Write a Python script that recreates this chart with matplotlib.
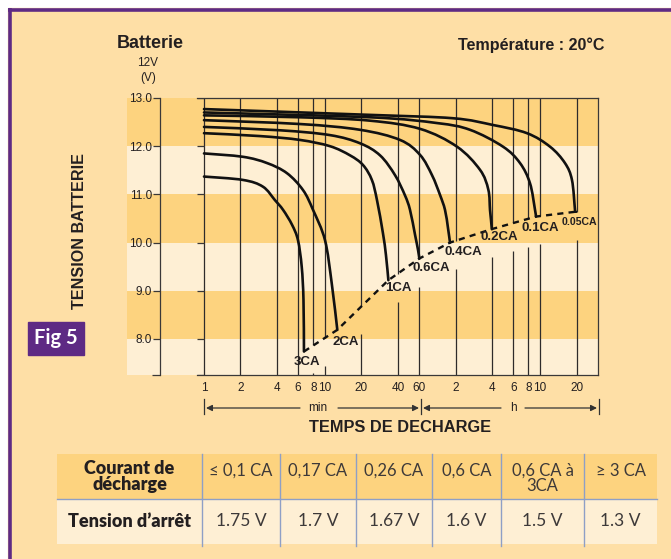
import numpy as np
import matplotlib
matplotlib.use("Agg")
import matplotlib.pyplot as plt
from matplotlib.path import Path
from matplotlib.patches import PathPatch, Rectangle

plt.rcParams['font.family'] = ['Liberation Sans', 'DejaVu Sans']

# discharge curves: time in minutes, voltage in V
t_3ca = [1, 2.1, 3.07, 3.86, 4.5, 5.34, 5.98, 6.42, 6.64, 6.7]
v_3ca = [11.37, 11.30, 11.16, 10.88, 10.68, 10.37, 10.05, 9.50, 8.81, 7.74]
t_2ca = [1, 2.1, 3.32, 4.85, 6.58, 7.96, 10.0, 11.36, 12.64]
v_2ca = [11.85, 11.78, 11.65, 11.44, 11.09, 10.68, 10.05, 9.16, 8.19]
t_1ca = [1, 2.9, 6.21, 11.0, 16.1, 20.6, 24.4, 26.9, 30.1, 31.9, 33.4]
v_1ca = [12.27, 12.21, 12.13, 12.00, 11.81, 11.61, 11.30, 10.88, 10.20, 9.74, 9.22]
t_06ca = [1, 4.25, 11.0, 19.5, 28.5, 37.9, 45.8, 50.4, 55.5, 58.7, 60.2]
v_06ca = [12.40, 12.33, 12.23, 12.06, 11.81, 11.40, 10.98, 10.68, 10.16, 9.85, 9.67]
t_04ca = [1, 6.21, 19.5, 41.7, 61.0, 76.6, 89.2, 98.1, 103.9, 107.9]
v_04ca = [12.54, 12.46, 12.34, 12.13, 11.82, 11.40, 10.99, 10.68, 10.30, 10.00]
t_02ca = [1, 6.21, 23.5, 61.0, 123.3, 191, 223.7, 231, 235.5, 239]
v_02ca = [12.64, 12.60, 12.53, 12.36, 11.99, 11.51, 11.10, 10.68, 10.47, 10.28]
t_01ca = [1, 23.5, 84.3, 157.9, 296, 409, 494.7, 544, 554.6]
v_01ca = [12.70, 12.60, 12.48, 12.34, 11.99, 11.65, 11.23, 10.68, 10.54]
t_005ca = [1, 23.5, 114.3, 244.5, 467, 724, 962, 1099, 1164, 1175]
v_005ca = [12.77, 12.65, 12.58, 12.44, 12.27, 11.99, 11.65, 11.30, 10.68, 10.64]

curve_names = ['3CA', '2CA', '1CA', '0.6CA', '0.4CA', '0.2CA', '0.1CA', '0.05CA']
curve_t = [t_3ca, t_2ca, t_1ca, t_06ca, t_04ca, t_02ca, t_01ca, t_005ca]
curve_v = [v_3ca, v_2ca, v_1ca, v_06ca, v_04ca, v_02ca, v_01ca, v_005ca]

tick_min = [1, 2, 4, 6, 8, 10, 20, 40, 60, 120, 240, 360, 480, 600, 1200]
tick_lbl = ['1', '2', '4', '6', '8', '10', '20', '40', '60', '2', '4', '6', '8', '10', '20']
volt_ticks = [8, 9, 10, 11, 12, 13]

tab_head = ['Courant de\ndécharge', '≤ 0,1 CA', '0,17 CA', '0,26 CA', '0,6 CA', '0,6 CA à\n3CA', '≥ 3 CA']
tab_body = ['Tension d’arrêt', '1.75 V', '1.7 V', '1.67 V', '1.6 V', '1.5 V', '1.3 V']

# colours
PEACH = '#FEDFA6'
DARK = '#FDD37F'
LIGHT = '#FEEFD4'
PURPLE = '#5E2A84'
INK = '#231F20'
GRID = '#2E2B2B'

W, H = 671, 559
PXD = 121.0   # px per decade
PXV = 48.2    # px per volt
X1 = 204      # px of t = 1 min
def tpx(x):
    return 10 ** ((x - X1) / PXD)

fig = plt.figure(figsize=(W / 100, H / 100), dpi=100)
bg = fig.add_axes([0, 0, 1, 1])
bg.set_xlim(0, W)
bg.set_ylim(H, 0)
bg.axis('off')
bg.add_patch(Rectangle((0, 0), W, H, color='white', zorder=0))
bg.add_patch(Rectangle((8, 8), W, H, color=PEACH, zorder=0))
bg.plot([9.5, 9.5], [8, H], color=PURPLE, lw=2.6, solid_capstyle='butt')
bg.plot([8, W], [9.5, 9.5], color=PURPLE, lw=2.6, solid_capstyle='butt')

# main chart
left, right, top, bottom = 127, 598, 98, 375
ax = fig.add_axes([left / W, 1 - bottom / H, (right - left) / W, (bottom - top) / H])
ax.set_xscale('log')
T_LO, T_HI = tpx(left), tpx(right)
V_BOT = 13 - (bottom - top) / PXV
ax.set_xlim(T_LO, T_HI)
ax.set_ylim(V_BOT, 13)
ax.set_facecolor(LIGHT)
for lo in (12, 10, 8):
    ax.axhspan(lo, lo + 1, color=DARK, lw=0, zorder=0)

ends_t = [ct[-1] for ct in curve_t]
ends_v = [cv[-1] for cv in curve_v]

# vertical grid lines, cut below the end-of-discharge line
for tk in tick_min:
    if ends_t[0] <= tk <= ends_t[-1] * 1.1:
        vd = np.interp(np.log10(tk), np.log10(ends_t), ends_v)
        ax.vlines(tk, vd, 13, color=GRID, lw=0.9, zorder=1)
        ax.vlines(tk, V_BOT, vd - 0.58, color=GRID, lw=0.9, zorder=1)
    else:
        ax.vlines(tk, V_BOT, 13, color=GRID, lw=0.9, zorder=1)

def smooth_path(ts, vs):
    # Catmull-Rom through the read points, drawn as cubic Bezier in pixel-like space
    p = np.column_stack([np.log10(ts) * PXD, np.array(vs) * PXV])
    q = np.vstack([p[0], p, p[-1]])
    verts = [p[0]]
    codes = [Path.MOVETO]
    for i in range(1, len(q) - 2):
        c1 = q[i] + (q[i + 1] - q[i - 1]) / 6
        c2 = q[i + 1] - (q[i + 2] - q[i]) / 6
        verts += [c1, c2, q[i + 1]]
        codes += [Path.CURVE4] * 3
    verts = np.array(verts)
    verts = np.column_stack([10 ** (verts[:, 0] / PXD), verts[:, 1] / PXV])
    return Path(verts, codes)

for ct, cv in zip(curve_t, curve_v):
    ax.add_patch(PathPatch(smooth_path(ct, cv), fill=False, ec='#111111', lw=1.9,
                           capstyle='round', zorder=3))

ax.plot(ends_t, ends_v, color='#111111', lw=1.7, dashes=(2.6, 2.2), zorder=3)

lbl_off = [(3, -10), (8, -12), (10, -8), (12, -9), (13, -9), (8, -8), (4, -11), (4, -10)]
for name, et, ev, off in zip(curve_names, ends_t, ends_v, lbl_off):
    ax.annotate(name, (et, ev), xytext=off, textcoords='offset pixels',
                ha='center', va='center', fontsize=7.6 if name == '0.05CA' else 9.5,
                fontweight='bold', color=INK, zorder=4)

# axes frame
for s in ('top', 'bottom'):
    ax.spines[s].set_bounds(tpx(197), T_HI)
for s in ax.spines.values():
    s.set_color('#3a3838')
    s.set_linewidth(0.9)
ax.spines['left'].set_position(('data', tpx(160)))
ax.spines['left'].set_bounds(V_BOT, 13)
ax.set_yticks(volt_ticks)
ax.set_yticklabels([f'{v:.1f}' for v in volt_ticks])
ax.tick_params(axis='y', direction='out', length=5, width=0.9, color='#3a3838',
               pad=0.5, labelsize=8.5, labelcolor=INK)
ax.hlines(volt_ticks + [V_BOT], tpx(197), 1, color='#3a3838', lw=0.9, zorder=2)
ax.hlines(V_BOT, tpx(152), tpx(160), color='#3a3838', lw=0.9, clip_on=False)
ax.xaxis.set_minor_locator(matplotlib.ticker.NullLocator())
ax.set_xticks(tick_min)
ax.set_xticklabels(tick_lbl)
ax.tick_params(axis='x', length=0, pad=5, labelsize=8.5, labelcolor=INK)

# titles and axis texts
bg.text(117, 44, 'Batterie', fontsize=13, fontweight='bold', color=INK, va='center')
bg.text(458, 45, 'Température : 20°C', fontsize=11.6, fontweight='bold', color=INK, va='center')
bg.text(148, 63, '12V', fontsize=8.5, color=INK, ha='center', va='center')
bg.text(148, 78, '(V)', fontsize=8.5, color=INK, ha='center', va='center')
bg.text(79, 231, 'TENSION BATTERIE', fontsize=11.6, fontweight='bold', color=INK,
        rotation=90, ha='center', va='center')
bg.text(400, 428, 'TEMPS DE DECHARGE', fontsize=11.8, fontweight='bold', color=INK,
        ha='center', va='center')

# min / h arrows
ay = 408
for xb in (204, 421, 599):
    bg.plot([xb, xb], [399, 414], color='#333333', lw=0.9)
arr = dict(arrowstyle='-|>', color='#333333', lw=0.9, mutation_scale=9, shrinkA=0, shrinkB=0)
for x0, x1 in ((300, 206), (338, 419), (501, 423), (525, 597)):
    bg.annotate('', xy=(x1, ay), xytext=(x0, ay), arrowprops=arr)
bg.text(318, ay, 'min', fontsize=8.5, color=INK, ha='center', va='center')
bg.text(513, ay, 'h', fontsize=8.5, color=INK, ha='center', va='center')

# Fig 5 tag
bg.add_patch(Rectangle((28, 322), 56, 33, color=PURPLE))
bg.text(56, 338.5, 'Fig 5', fontsize=14.5, fontweight='bold', color='white',
        ha='center', va='center', family=['Lato', 'DejaVu Sans'])

# table
col_x = [57, 202, 280, 356, 432, 501, 584, 657]
r0, r1, r2 = 454, 499, 544
bg.add_patch(Rectangle((col_x[0], r0), col_x[-1] - col_x[0], r1 - r0, color=DARK, lw=0))
bg.add_patch(Rectangle((col_x[0], r1), col_x[-1] - col_x[0], r2 - r1, color=LIGHT, lw=0))
bg.plot([col_x[0], col_x[-1]], [r1, r1], color='#8E9FC6', lw=1)
for xc in col_x[1:-1]:
    bg.plot([xc, xc], [r0, r2 + 2], color='#8E9FC6', lw=1)
for i in range(7):
    cx = (col_x[i] + col_x[i + 1]) / 2
    if i == 0:
        bg.text(cx, (r0 + r1) / 2, tab_head[i], fontsize=13, fontweight='heavy', color=INK,
                ha='center', va='center', linespacing=0.95, family=['Lato', 'DejaVu Sans'])
        bg.text(cx, (r1 + r2) / 2, tab_body[i], fontsize=13, fontweight='heavy', color=INK,
                ha='center', va='center', family=['Lato', 'DejaVu Sans'])
    else:
        hy = (r0 + r1) / 2 + (2 if '\n' in tab_head[i] else -5.5)
        bg.text(cx, hy, tab_head[i], fontsize=12, color='#3d3939',
                ha='center', va='center', linespacing=0.95, family=['Lato', 'DejaVu Sans'])
        bg.text(cx, (r1 + r2) / 2, tab_body[i], fontsize=12.5, color='#3d3939',
                ha='center', va='center', family=['Lato', 'DejaVu Sans'])

fig.savefig('out.png', dpi=100)
